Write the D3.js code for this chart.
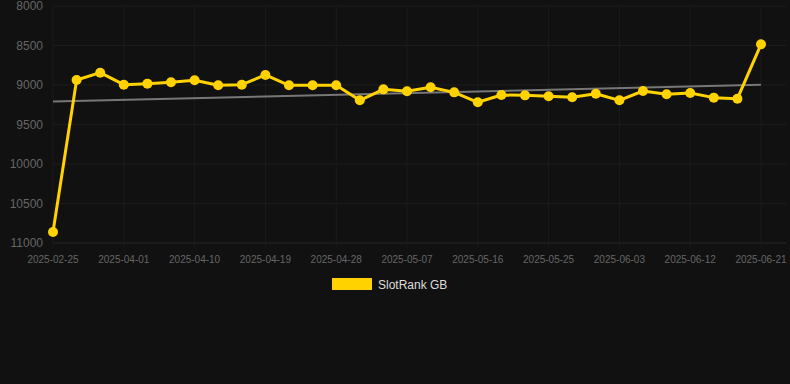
<!DOCTYPE html>
<html>
<head>
<meta charset="utf-8">
<script src="https://cdn.jsdelivr.net/npm/d3@7"></script>
<style>
  html, body { margin: 0; padding: 0; background: #111111; }
  svg { display: block; font-family: "Liberation Sans", Arial, sans-serif; }
</style>
</head>
<body>
<div id="chart"></div>
<script>
// dates (categories) of the series
const dates = [
  "2025-02-25", "2025-03-26", "2025-03-29", "2025-04-01", "2025-04-04", "2025-04-07",
  "2025-04-10", "2025-04-13", "2025-04-16", "2025-04-19", "2025-04-22", "2025-04-25",
  "2025-04-28", "2025-05-01", "2025-05-04", "2025-05-07", "2025-05-10", "2025-05-13",
  "2025-05-16", "2025-05-19", "2025-05-22", "2025-05-25", "2025-05-28", "2025-05-31",
  "2025-06-03", "2025-06-06", "2025-06-09", "2025-06-12", "2025-06-15", "2025-06-18",
  "2025-06-21"
];

// rank values, SlotRank GB
const ranks = [
  10860, 8937, 8844, 8996, 8983, 8966,
  8941, 9004, 8996, 8873, 9004, 9004,
  9004, 9194, 9055, 9080, 9029, 9093,
  9219, 9127, 9131, 9143, 9156, 9110,
  9194, 9076, 9118, 9101, 9160, 9173,
  8485
];

// trend line: values at first and last date
const trend = [9210, 8996];

const yTicks = [8000, 8500, 9000, 9500, 10000, 10500, 11000];
const seriesName = "SlotRank GB";

const width = 790, height = 384;
const plotLeft = 53, plotRight = 761, plotTop = 6, plotBottom = 243;
const yellow = "#ffd200";

const svg = d3.select("#chart").append("svg")
  .attr("width", width)
  .attr("height", height);

const x = d3.scalePoint().domain(dates).range([plotLeft, plotRight]);
const y = d3.scaleLinear().domain([8000, 11000]).range([plotTop, plotBottom]);

// grid
const tickDates = dates.filter((d, i) => i % 3 === 0);

svg.append("g")
  .selectAll("line")
  .data(yTicks)
  .enter().append("line")
  .attr("x1", plotLeft).attr("x2", plotRight + 25)
  .attr("y1", d => y(d)).attr("y2", d => y(d))
  .style("stroke", d => d === 11000 ? "#262626" : "#1c1c1c")
  .style("stroke-width", 1);

svg.append("g")
  .selectAll("line")
  .data(tickDates)
  .enter().append("line")
  .attr("x1", d => x(d)).attr("x2", d => x(d))
  .attr("y1", plotTop).attr("y2", plotBottom + 5)
  .style("stroke", "#1b1b1b")
  .style("stroke-width", 1);

// y axis labels
svg.append("g")
  .selectAll("text")
  .data(yTicks)
  .enter().append("text")
  .attr("x", 43)
  .attr("y", d => y(d))
  .attr("dy", "0.35em")
  .attr("text-anchor", "end")
  .style("font-size", "12px")
  .style("fill", "#666")
  .text(d => d);

// x axis labels
svg.append("g")
  .selectAll("text")
  .data(tickDates)
  .enter().append("text")
  .attr("x", d => x(d))
  .attr("y", 259)
  .attr("dy", "0.35em")
  .attr("text-anchor", "middle")
  .style("font-size", "10px")
  .style("fill", "#666")
  .text(d => d);

// trend line
svg.append("line")
  .attr("x1", x(dates[0])).attr("y1", y(trend[0]))
  .attr("x2", x(dates[dates.length - 1])).attr("y2", y(trend[1]))
  .style("stroke", "#777")
  .style("stroke-width", 2);

// series
const line = d3.line()
  .x((d, i) => x(dates[i]))
  .y(d => y(d));

svg.append("path")
  .datum(ranks)
  .attr("d", line)
  .style("fill", "none")
  .style("stroke", yellow)
  .style("stroke-width", 3)
  .style("stroke-linejoin", "round");

svg.append("g")
  .selectAll("circle")
  .data(ranks)
  .enter().append("circle")
  .attr("cx", (d, i) => x(dates[i]))
  .attr("cy", d => y(d))
  .attr("r", 5)
  .style("fill", yellow);

// legend
svg.append("rect")
  .attr("x", 332).attr("y", 278)
  .attr("width", 40).attr("height", 12)
  .style("fill", yellow);

svg.append("text")
  .attr("x", 378).attr("y", 285)
  .attr("dy", "0.35em")
  .style("font-size", "12px")
  .style("fill", "#ddd")
  .text(seriesName);
</script>
</body>
</html>
